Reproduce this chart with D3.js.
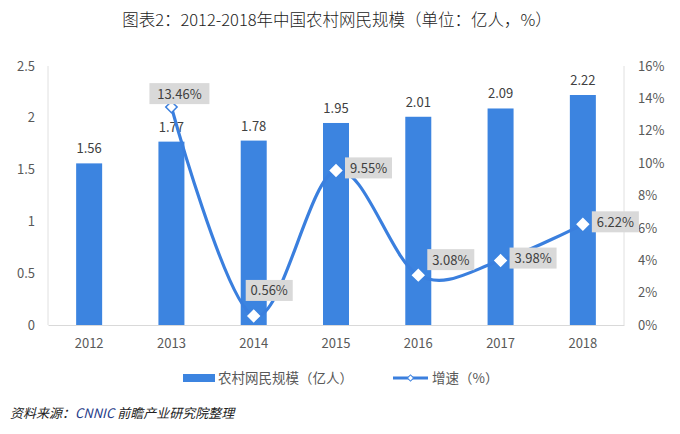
<!DOCTYPE html>
<html>
<head>
<meta charset="utf-8">
<script src="https://cdn.jsdelivr.net/npm/d3@7"></script>
<style>
  html, body { margin: 0; padding: 0; background: #fff; }
  svg { display: block; }
</style>
</head>
<body>
<svg id="chart" width="680" height="434"></svg>
<script>
// ---- data ----
const years = ["2012", "2013", "2014", "2015", "2016", "2017", "2018"];
const users = [1.56, 1.77, 1.78, 1.95, 2.01, 2.09, 2.22];          // 亿人
const growth = [null, 13.46, 0.56, 9.55, 3.08, 3.98, 6.22];         // %
const leftTicks = [0, 0.5, 1, 1.5, 2, 2.5];
const rightTicks = [0, 2, 4, 6, 8, 10, 12, 14, 16];
const titleText = "图表2：2012-2018年中国农村网民规模（单位：亿人，%）";
const seriesNames = ["农村网民规模（亿人）", "增速（%）"];

// label placement for growth labels: relative to marker
const labelPlace = [null, "top", "topright", "right", "upright", "right", "right"];

const font = "'Noto Sans CJK SC', 'Open Sans', sans-serif";
const barColor = "#3c84e0";
const lineColor = "#3a7fde";
const textColor = "#595959";

const svg = d3.select("#chart");
const L = 48, R = 624, T = 66, B = 325;

const x = d3.scaleBand().domain(years).range([L, R]).paddingInner(0.68).paddingOuter(0.34);
const yL = d3.scaleLinear().domain([0, 2.5]).range([B, T]);
const yR = d3.scaleLinear().domain([0, 16]).range([B, T]);

// title
svg.append("text").attr("x", 337).attr("y", 26).attr("text-anchor", "middle")
  .attr("font-family", font).attr("font-size", 16.5).attr("font-weight", 300).attr("fill", "#222")
  .text(titleText);

// axis frame lines
svg.append("line").attr("x1", L).attr("x2", L).attr("y1", T).attr("y2", B).attr("stroke", "#e0e0e0");
svg.append("line").attr("x1", R).attr("x2", R).attr("y1", T).attr("y2", B).attr("stroke", "#e0e0e0");

// left axis
const axL = d3.axisLeft(yL).tickValues(leftTicks).tickSize(0).tickPadding(13).tickFormat(d3.format("~g"));
const gL = svg.append("g").attr("transform", `translate(${L},0)`).call(axL);
gL.select(".domain").remove();
gL.selectAll("text").attr("font-family", font).attr("font-size", 13).attr("fill", textColor);

// right axis
const axR = d3.axisRight(yR).tickValues(rightTicks).tickSize(0).tickPadding(14).tickFormat(d => d + "%");
const gR = svg.append("g").attr("transform", `translate(${R},0)`).call(axR);
gR.select(".domain").remove();
gR.selectAll("text").attr("font-family", font).attr("font-size", 13).attr("fill", textColor);

// bottom axis
const axB = d3.axisBottom(x).tickSize(0).tickPadding(14);
const gB = svg.append("g").attr("transform", `translate(0,${B})`).call(axB);
gB.select(".domain").attr("stroke", "#d9d9d9");
gB.selectAll("text").attr("font-family", font).attr("font-size", 13).attr("fill", textColor);

// bars
const barW = 26;
svg.append("g").selectAll("rect").data(years).join("rect")
  .attr("x", d => x(d) + x.bandwidth() / 2 - barW / 2)
  .attr("width", barW)
  .attr("y", (d, i) => yL(users[i]))
  .attr("height", (d, i) => yL(0) - yL(users[i]))
  .attr("fill", barColor);

// bar labels
svg.append("g").selectAll("text").data(years).join("text")
  .attr("x", d => x(d) + x.bandwidth() / 2)
  .attr("y", (d, i) => yL(users[i]) - 10)
  .attr("text-anchor", "middle")
  .attr("font-family", font).attr("font-size", 13).attr("fill", "#404040")
  .text((d, i) => users[i].toFixed(2));

// growth line
const pts = years.map((d, i) => ({ year: d, v: growth[i], p: labelPlace[i] })).filter(d => d.v !== null);
const cx = d => x(d.year) + x.bandwidth() / 2;
const line = d3.line().x(cx).y(d => yR(d.v)).curve(d3.curveCardinal.tension(0));
svg.append("path").datum(pts).attr("d", line)
  .attr("fill", "none").attr("stroke", lineColor).attr("stroke-width", 3.2);

// markers (square rotated 45° = diamond)
const diamond = d3.symbol().type(d3.symbolSquare).size(64);
svg.append("g").selectAll("path").data(pts).join("path")
  .attr("d", diamond)
  .attr("transform", d => `translate(${cx(d)},${yR(d.v)}) rotate(45)`)
  .attr("fill", "#fff").attr("stroke", (d, i) => i === 0 ? lineColor : "#fff").attr("stroke-width", 1.5);

// growth labels with grey boxes
const gLab = svg.append("g");
pts.forEach(d => {
  const mx = cx(d), my = yR(d.v);
  const txt = d.v.toFixed(2) + "%";
  const w = txt.length > 5 ? 60 : 47, h = 21;
  let bx, by;
  if (d.p === "top") { bx = mx - w / 2 + 8; by = my - 24; }
  else if (d.p === "topright") { bx = mx - 8; by = my - 36; }
  else if (d.p === "upright") { bx = mx + 9; by = my - 26; }
  else { bx = mx + 9; by = my - 13; }
  gLab.append("rect").attr("x", bx).attr("y", by).attr("width", w).attr("height", h).attr("fill", "#d9d9d9");
  gLab.append("text").attr("x", bx + w / 2).attr("y", by + h / 2 + 5)
    .attr("text-anchor", "middle").attr("font-family", font).attr("font-size", 13).attr("fill", "#404040")
    .text(txt);
});

// legend
const lg = svg.append("g");
lg.append("rect").attr("x", 183).attr("y", 374).attr("width", 32).attr("height", 8).attr("fill", barColor);
lg.append("text").attr("x", 218).attr("y", 383).attr("font-family", font).attr("font-size", 13.5).attr("fill", textColor).text(seriesNames[0]);
lg.append("line").attr("x1", 393).attr("x2", 428).attr("y1", 378).attr("y2", 378).attr("stroke", lineColor).attr("stroke-width", 3);
lg.append("path").attr("d", d3.symbol().type(d3.symbolSquare).size(20)).attr("transform", "translate(410.5,378) rotate(45)")
  .attr("fill", "#fff").attr("stroke", lineColor).attr("stroke-width", 1);
lg.append("text").attr("x", 432).attr("y", 383).attr("font-family", font).attr("font-size", 13.5).attr("fill", textColor).text(seriesNames[1]);

// source
const src = svg.append("text").attr("x", 10).attr("y", 418).attr("font-family", font).attr("font-size", 13)
  .attr("font-style", "italic").attr("fill", "#222");
src.append("tspan").text("资料来源：");
src.append("tspan").attr("fill", "#1f3c88").text("CNNIC ");
src.append("tspan").text("前瞻产业研究院整理");
</script>
</body>
</html>
